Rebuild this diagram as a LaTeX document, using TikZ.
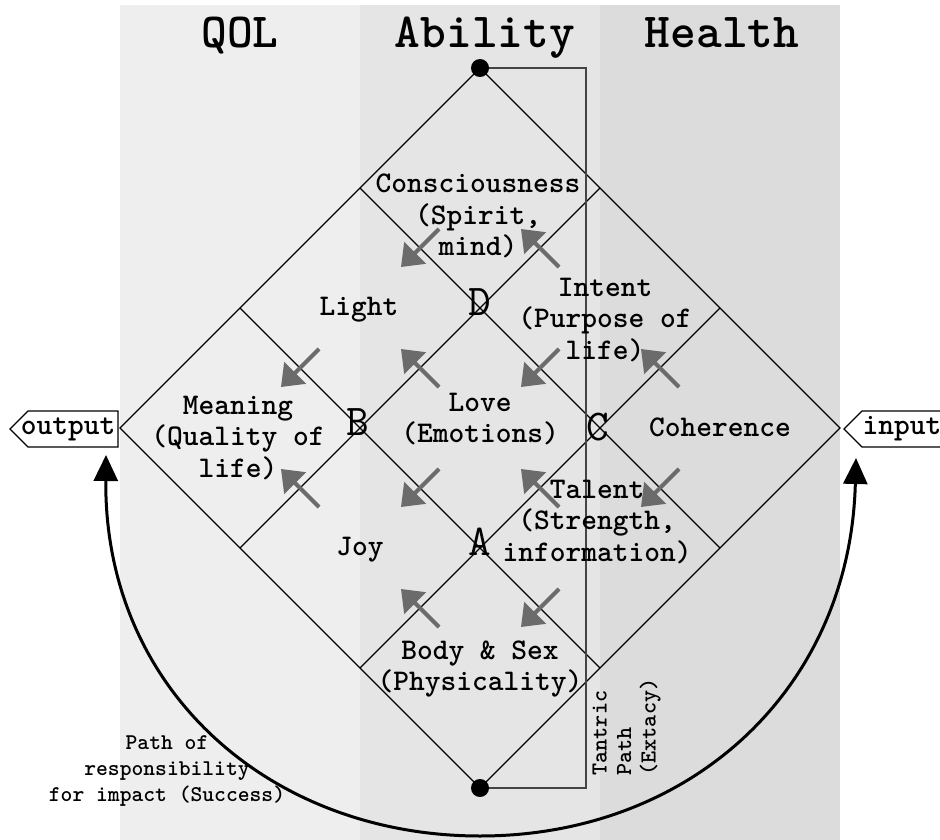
\documentclass[tikz,border=0pt]{standalone}
\usetikzlibrary{arrows.meta}
\definecolor{qolgray}{HTML}{EEEEEE}
\definecolor{abilitygray}{HTML}{E5E5E5}
\definecolor{healthgray}{HTML}{DCDCDC}
\definecolor{flowgray}{HTML}{6B6B6B}
\definecolor{pathgray}{HTML}{444444}
\tikzset{
  cell/.style={font=\ttfamily\bfseries\fontsize{30}{31.5}\selectfont, align=center, inner sep=0pt},
  title/.style={font=\ttfamily\bfseries\fontsize{49}{49}\selectfont, anchor=base, inner sep=0pt},
  corner/.style={font=\ttfamily\fontsize{44}{44}\selectfont, inner sep=0pt},
  flow/.style={-{Triangle[length=20pt,width=30pt]}, line width=4pt, flowgray},
  tag/.style={draw, fill=white, line width=1.3pt},
  tagtext/.style={font=\ttfamily\bfseries\fontsize{30}{30}\selectfont, inner sep=0pt},
  dot/.style={circle, fill=black, inner sep=0pt, minimum size=18pt},
  resp/.style={{Triangle[length=26pt,width=24pt]}-{Triangle[length=26pt,width=24pt]}, line width=3pt},
  note/.style={font=\ttfamily\bfseries\fontsize{22.5}{26}\selectfont, align=center, inner sep=0pt},
  tantric/.style={font=\ttfamily\bfseries\fontsize{23}{24.5}\selectfont, align=left, inner sep=0pt, rotate=90, anchor=north west}
}
\begin{document}
\begin{tikzpicture}[x=1pt, y=-1pt, line width=1.3pt]
  \useasboundingbox (0,0) rectangle (940,840);
  \foreach \x/\c in {120/qolgray, 360/abilitygray, 600/healthgray}
    \fill[\c] (\x,5) rectangle (\x+240,840);
  \foreach \x/\t in {240/QOL, 485/Ability, 722/Health}
    \node[title] at (\x,48) {\t};

  \coordinate (top) at (480,68);
  \coordinate (right) at (840,428);
  \coordinate (bottom) at (480,788);
  \coordinate (left) at (120,428);
  \draw (top) -- (right) -- (bottom) -- (left) -- cycle;
  \foreach \i in {1,2} {
    \draw (480-120*\i,68+120*\i) -- ++(360,360);
    \draw (480+120*\i,68+120*\i) -- ++(-360,360);
  }
  \draw[pathgray, line width=1.5pt] (top) -- ++(106,0) |- (bottom);
  \node[dot] (topdot) at (top) {};
  \node[dot] (bottomdot) at (bottom) {};

  \foreach \x/\y in {420/248, 540/368, 660/488, 300/368, 420/488, 540/608}
    \draw[flow] (\x+19,\y-19) -- (\x-19,\y+19);
  \foreach \x/\y in {540/248, 420/368, 300/488, 660/368, 540/488, 420/608}
    \draw[flow] (\x+19,\y+19) -- (\x-19,\y-19);

  \node[cell] (consc) at (478,216) {Consciousness\\(Spirit,\\mind)};
  \node[cell] (light) at (359,310) {Light};
  \node[cell] (intent) at (605,320) {Intent\\(Purpose of\\life)};
  \node[cell] (meaning) at (238,438) {Meaning\\(Quality of\\life)};
  \node[cell] (love) at (480,419) {Love\\(Emotions)};
  \node[cell] (coherence) at (720,427) {Coherence};
  \node[cell] (joy) at (360,550) {Joy};
  \node[cell] (talent) at (597,522) {Talent\\(Strength,\\information)};
  \node[cell] (body) at (480,669) {Body \& Sex\\(Physicality)};
  \foreach \x/\y/\l in {480/302/D, 358/422/B, 598/427/C, 480/542/A}
    \node[corner] at (\x,\y) {\l};

  \draw[tag] (118,411) -- (28,411) -- (10,429) -- (28,447) -- (118,447) -- cycle;
  \node[tagtext] (output) at (68,429) {output};
  \draw[tag] (945,411) -- (862,411) -- (844,429) -- (862,447) -- (945,447) -- cycle;
  \node[tagtext] (input) at (902,429) {input};
  \coordinate (respin) at (856,458);
  \coordinate (respout) at (106,455);
  \draw[resp] (respin) .. controls (850,690) and (690,836) .. (480,836)
    .. controls (270,836) and (104,690) .. (respout);
  \node[note] (resptext) at (167,771) {Path of\\responsibility\\for impact (Success)};
  \node[tantric] (tantrictext) at (592,776) {Tantric\\Path\\(Extacy)};
\end{tikzpicture}
\end{document}
